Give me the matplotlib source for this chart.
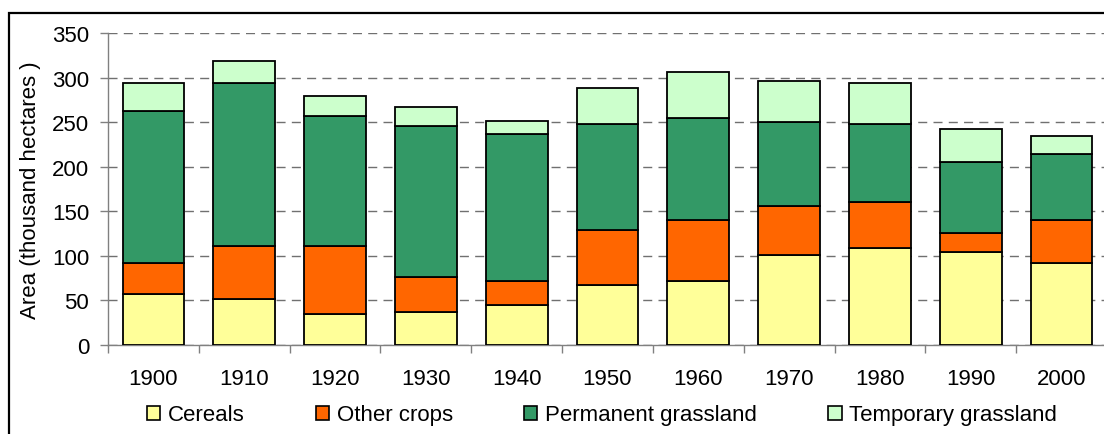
import matplotlib
matplotlib.use("Agg")
import matplotlib.pyplot as plt
import numpy as np
from matplotlib.patches import Rectangle

years = ["1900", "1910", "1920", "1930", "1940", "1950", "1960", "1970", "1980", "1990", "2000"]
# cumulative tops, converted to segment values
cereals = [57, 51, 35, 37, 45, 67, 72, 101, 109, 104, 92]
other_crops = [35, 60, 76, 39, 27, 62, 68, 55, 51, 21, 48]
permanent_grassland = [171, 183, 146, 170, 165, 119, 115, 94, 88, 80, 74]
temporary_grassland = [31, 25, 23, 21, 14, 40, 51, 46, 46, 37, 21]
series_names = ["Cereals", "Other crops", "Permanent grassland", "Temporary grassland"]
colors = ["#FFFF99", "#FF6600", "#339966", "#CCFFCC"]
yticks = [0, 50, 100, 150, 200, 250, 300, 350]

plt.rcParams['font.family'] = ['Liberation Sans', 'DejaVu Sans']

W, H = 1104, 435
fig = plt.figure(figsize=(W / 100, H / 100), dpi=100)
ax = fig.add_axes([108 / W, 1 - 345.7 / H, (1107 - 108) / W, (345.7 - 34.3) / H])

x = np.arange(len(years))
bottom = np.zeros(len(years))
handles = []
for vals, name, c in zip([cereals, other_crops, permanent_grassland, temporary_grassland], series_names, colors):
    b = ax.bar(x, vals, width=0.68, bottom=bottom, color=c, edgecolor="black", linewidth=1.3, label=name, zorder=3)
    handles.append(b)
    bottom = bottom + np.array(vals)

ax.set_xlim(-0.5, len(years) - 0.5)
ax.set_ylim(0, 350)
ax.set_yticks(yticks)
ax.set_yticklabels([str(t) for t in yticks], fontsize=16)
ax.set_xticks(x)
ax.set_xticklabels(years, fontsize=16)
ax.set_xticks(np.arange(-0.5, len(years), 1), minor=True)
ax.tick_params(axis='x', which='major', length=0, pad=17)
ax.tick_params(axis='x', which='minor', length=6, color='#808080', width=1, direction='out')
ax.tick_params(axis='y', length=6, color='#808080', width=1, direction='out', pad=7.5)

ax.yaxis.grid(True, linestyle=(0, (6.5, 4.5)), color='#707070', linewidth=1.0, zorder=0)
ax.set_axisbelow(True)
for s in ['top', 'right']:
    ax.spines[s].set_visible(False)
for s in ['left', 'bottom']:
    ax.spines[s].set_color('#808080')
    ax.spines[s].set_linewidth(1.0)

ax.set_ylabel("Area (thousand hectares )", fontsize=16, labelpad=8)

leg = fig.legend(handles, series_names, loc='center', bbox_to_anchor=(602 / W, 1 - 416 / H),
                 ncol=4, frameon=False, fontsize=16, handlelength=0.6, handleheight=0.6,
                 handletextpad=0.35, columnspacing=3.2, borderaxespad=0, borderpad=0)
for p in leg.get_patches():
    p.set_linewidth(1.2)

# outer chart frame
fig.patches.append(Rectangle((8.5 / W, -0.1), 1.2, (1 - 13.5 / H) + 0.1, transform=fig.transFigure,
                             fill=False, edgecolor='black', linewidth=1.6, zorder=10))

fig.savefig("out.png", dpi=100)
